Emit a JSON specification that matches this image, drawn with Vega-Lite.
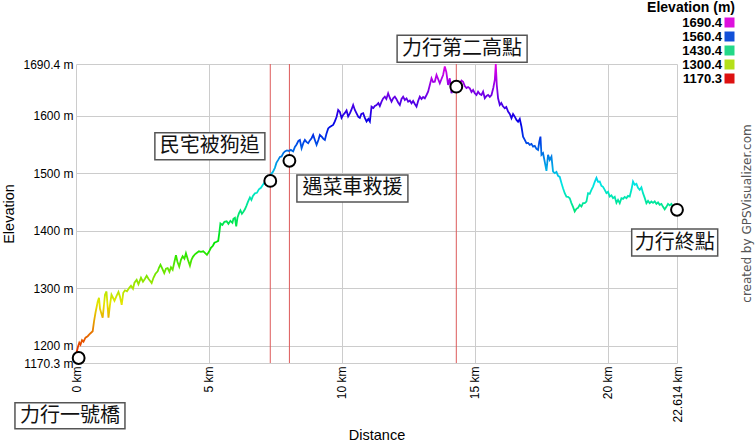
{
  "$schema": "https://vega.github.io/schema/vega-lite/v6.json",
  "width": 601,
  "height": 299,
  "autosize": {"type": "none"},
  "padding": {"left": 76, "top": 64, "right": 78, "bottom": 79},
  "background": "white",
  "config": {"font": "Liberation Sans", "view": {"stroke": null}},
  "title": {"text": "created by GPSVisualizer.com", "orient": "right", "anchor": "middle", "angle": -90, "fontSize": 12, "fontWeight": "normal", "color": "#555555", "offset": -5, "font": "DejaVu Sans"},
  "datasets": {
    "track": [
      {"d":0,"e":1170.3},{"d":0.03,"e":1190},{"d":0.075,"e":1198.7},{"d":0.124,"e":1205.6},{"d":0.169,"e":1202.1},{"d":0.226,"e":1210},{"d":0.282,"e":1207.4},{"d":0.357,"e":1214.3},{"d":0.44,"e":1216.9},{"d":0.527,"e":1221.2},
      {"d":0.628,"e":1225.6},{"d":0.677,"e":1242.1},{"d":0.733,"e":1257.7},{"d":0.816,"e":1276.8},{"d":0.865,"e":1283.8},{"d":0.903,"e":1264.7},{"d":0.959,"e":1256},{"d":1.004,"e":1249.1},{"d":1.053,"e":1271.6},{"d":1.091,"e":1289},
      {"d":1.147,"e":1294.7},{"d":1.185,"e":1271.6},{"d":1.222,"e":1249.1},{"d":1.279,"e":1271.6},{"d":1.335,"e":1289},{"d":1.392,"e":1283.8},{"d":1.448,"e":1278.5},{"d":1.531,"e":1287.3},{"d":1.598,"e":1293.9},{"d":1.655,"e":1285.5},
      {"d":1.719,"e":1271.6},{"d":1.779,"e":1292.5},{"d":1.843,"e":1296.8},{"d":1.918,"e":1295.1},{"d":2.004,"e":1301.2},{"d":2.068,"e":1304.6},{"d":2.144,"e":1299.4},{"d":2.2,"e":1309.9},{"d":2.283,"e":1315},{"d":2.35,"e":1307.3},
      {"d":2.445,"e":1318.6},{"d":2.52,"e":1311.7},{"d":2.595,"e":1316.9},{"d":2.659,"e":1322.1},{"d":2.726,"e":1316.9},{"d":2.783,"e":1313.4},{"d":2.847,"e":1309.4},{"d":2.915,"e":1318.6},{"d":2.99,"e":1325.5},{"d":3.073,"e":1329.9},
      {"d":3.121,"e":1335.9},{"d":3.178,"e":1341.2},{"d":3.234,"e":1335.9},{"d":3.321,"e":1326.7},{"d":3.385,"e":1334.2},{"d":3.449,"e":1335.4},{"d":3.516,"e":1329},{"d":3.573,"e":1336.8},{"d":3.637,"e":1332.5},{"d":3.704,"e":1346.4},
      {"d":3.761,"e":1357.6},{"d":3.817,"e":1346.4},{"d":3.885,"e":1337.7},{"d":3.949,"e":1349.8},{"d":4.013,"e":1355.9},{"d":4.08,"e":1351.6},{"d":4.137,"e":1361.1},{"d":4.212,"e":1349.8},{"d":4.287,"e":1339.4},{"d":4.344,"e":1349.8},
      {"d":4.4,"e":1355},{"d":4.475,"e":1359.4},{"d":4.551,"e":1362},{"d":4.626,"e":1364.6},{"d":4.701,"e":1363.7},{"d":4.788,"e":1364.6},{"d":4.851,"e":1362},{"d":4.927,"e":1358.5},{"d":5.002,"e":1363.7},{"d":5.077,"e":1370.7},
      {"d":5.152,"e":1374.2},{"d":5.209,"e":1379.4},{"d":5.292,"e":1381.1},{"d":5.352,"e":1382.8},{"d":5.397,"e":1398.5},{"d":5.434,"e":1413.2},{"d":5.51,"e":1410.6},{"d":5.585,"e":1415.8},{"d":5.668,"e":1416.7},{"d":5.735,"e":1412.4},
      {"d":5.81,"e":1417.6},{"d":5.886,"e":1414.1},{"d":5.923,"e":1421.1},{"d":5.98,"e":1422.8},{"d":6.029,"e":1408},{"d":6.074,"e":1422.8},{"d":6.13,"e":1430.6},{"d":6.187,"e":1435.9},{"d":6.243,"e":1429.8},{"d":6.299,"e":1433.3},
      {"d":6.356,"e":1437.6},{"d":6.412,"e":1443.7},{"d":6.469,"e":1450.6},{"d":6.544,"e":1458.4},{"d":6.6,"e":1454.1},{"d":6.657,"e":1461},{"d":6.732,"e":1465.4},{"d":6.807,"e":1466.3},{"d":6.882,"e":1472.3},{"d":6.958,"e":1475},
      {"d":7.033,"e":1480.2},{"d":7.108,"e":1485.4},{"d":7.183,"e":1488},{"d":7.259,"e":1493.2},{"d":7.334,"e":1498.4},{"d":7.409,"e":1502.7},{"d":7.484,"e":1509.7},{"d":7.541,"e":1518.4},{"d":7.609,"e":1523.6},{"d":7.673,"e":1528.8},
      {"d":7.736,"e":1529.7},{"d":7.804,"e":1535.7},{"d":7.86,"e":1538.4},{"d":7.936,"e":1540.1},{"d":8.011,"e":1539.2},{"d":8.086,"e":1541},{"d":8.172,"e":1538.4},{"d":8.236,"e":1546.2},{"d":8.3,"e":1550.5},{"d":8.368,"e":1556.6},
      {"d":8.424,"e":1558.3},{"d":8.488,"e":1543.9},{"d":8.556,"e":1553.1},{"d":8.612,"e":1558.3},{"d":8.669,"e":1554.9},{"d":8.737,"e":1552.6},{"d":8.8,"e":1557.5},{"d":8.864,"e":1561.3},{"d":8.924,"e":1567},{"d":8.988,"e":1558.3},
      {"d":9.052,"e":1549.7},{"d":9.12,"e":1558.3},{"d":9.176,"e":1567},{"d":9.252,"e":1563.6},{"d":9.308,"e":1560.1},{"d":9.364,"e":1558.3},{"d":9.421,"e":1568.8},{"d":9.489,"e":1578.3},{"d":9.552,"e":1580.9},{"d":9.609,"e":1582.7},
      {"d":9.677,"e":1584.4},{"d":9.74,"e":1590.5},{"d":9.804,"e":1598.3},{"d":9.865,"e":1610.5},{"d":9.929,"e":1607},{"d":9.992,"e":1596.6},{"d":10.053,"e":1601.8},{"d":10.117,"e":1605.3},{"d":10.18,"e":1609.6},{"d":10.241,"e":1599.2},
      {"d":10.305,"e":1604.4},{"d":10.361,"e":1610.5},{"d":10.429,"e":1619.2},{"d":10.493,"e":1610.5},{"d":10.557,"e":1604.4},{"d":10.624,"e":1598.3},{"d":10.681,"e":1596.6},{"d":10.737,"e":1603.5},{"d":10.805,"e":1604.7},{"d":10.869,"e":1596.6},
      {"d":10.933,"e":1590.5},{"d":11.0,"e":1594.8},{"d":11.057,"e":1590.5},{"d":11.12,"e":1616.2},{"d":11.188,"e":1613.9},{"d":11.245,"e":1617.4},{"d":11.309,"e":1619.1},{"d":11.376,"e":1622.6},{"d":11.433,"e":1617.4},{"d":11.497,"e":1624.9},
      {"d":11.557,"e":1630.5},{"d":11.621,"e":1633.6},{"d":11.678,"e":1629.6},{"d":11.745,"e":1639.5},{"d":11.809,"e":1631.3},{"d":11.873,"e":1624.9},{"d":11.941,"e":1631.3},{"d":11.997,"e":1633.6},{"d":12.054,"e":1629.6},{"d":12.121,"e":1623.5},
      {"d":12.185,"e":1619.1},{"d":12.249,"e":1629.6},{"d":12.309,"e":1633.6},{"d":12.373,"e":1627.8},{"d":12.437,"e":1630.5},{"d":12.497,"e":1624.9},{"d":12.561,"e":1627},{"d":12.625,"e":1622.1},{"d":12.685,"e":1626.1},{"d":12.749,"e":1620.9},
      {"d":12.813,"e":1616.2},{"d":12.873,"e":1626.1},{"d":12.937,"e":1633.6},{"d":13.001,"e":1629.6},{"d":13.061,"e":1633.1},{"d":13.125,"e":1630.8},{"d":13.189,"e":1636.5},{"d":13.249,"e":1642.3},{"d":13.313,"e":1653.9},{"d":13.377,"e":1665.6},
      {"d":13.437,"e":1659.1},{"d":13.5,"e":1659.6},{"d":13.565,"e":1671.3},{"d":13.625,"e":1664.3},{"d":13.689,"e":1656.9},{"d":13.753,"e":1664.3},{"d":13.813,"e":1671.3},{"d":13.877,"e":1686.1},{"d":13.933,"e":1676.5},{"d":14.001,"e":1653.9},
      {"d":14.065,"e":1665.6},{"d":14.129,"e":1639.5},{"d":14.197,"e":1648.7},{"d":14.253,"e":1652.2},{"d":14.317,"e":1653.9},{"d":14.377,"e":1655.7},{"d":14.441,"e":1656.9},{"d":14.505,"e":1661.7},{"d":14.565,"e":1659.6},{"d":14.629,"e":1652.2},
      {"d":14.693,"e":1648.7},{"d":14.753,"e":1650.4},{"d":14.818,"e":1648.2},{"d":14.882,"e":1641.7},{"d":14.942,"e":1645.2},{"d":15.005,"e":1639.5},{"d":15.069,"e":1636.5},{"d":15.13,"e":1642.3},{"d":15.194,"e":1638.3},{"d":15.257,"e":1636.5},
      {"d":15.318,"e":1642.3},{"d":15.382,"e":1630.8},{"d":15.446,"e":1634.8},{"d":15.506,"e":1636.5},{"d":15.57,"e":1633.1},{"d":15.634,"e":1636.5},{"d":15.701,"e":1648.7},{"d":15.758,"e":1662.6},{"d":15.795,"e":1690.4},{"d":15.833,"e":1653.9},
      {"d":15.882,"e":1630.8},{"d":15.946,"e":1619.1},{"d":16.002,"e":1622.6},{"d":16.059,"e":1617.4},{"d":16.134,"e":1613.4},{"d":16.19,"e":1615.6},{"d":16.258,"e":1607.5},{"d":16.322,"e":1603.5},{"d":16.386,"e":1596},{"d":16.446,"e":1603.5},
      {"d":16.51,"e":1598.8},{"d":16.574,"e":1593.1},{"d":16.634,"e":1590.1},{"d":16.698,"e":1594.8},{"d":16.762,"e":1581.4},{"d":16.822,"e":1564.1},{"d":16.886,"e":1558.3},{"d":16.95,"e":1552.6},{"d":17.01,"e":1553.1},{"d":17.074,"e":1549.7},
      {"d":17.138,"e":1551.4},{"d":17.198,"e":1546.7},{"d":17.262,"e":1547.9},{"d":17.326,"e":1542.7},{"d":17.386,"e":1540.9},{"d":17.431,"e":1554.9},{"d":17.476,"e":1564.1},{"d":17.514,"e":1532.3},{"d":17.574,"e":1535.2},{"d":17.638,"e":1520.1},
      {"d":17.702,"e":1504.5},{"d":17.762,"e":1532.3},{"d":17.826,"e":1523.6},{"d":17.89,"e":1529.3},{"d":17.95,"e":1503.3},{"d":18.014,"e":1500.5},{"d":18.078,"e":1502.7},{"d":18.138,"e":1495.8},{"d":18.202,"e":1494},{"d":18.266,"e":1483.6},
      {"d":18.326,"e":1474.4},{"d":18.39,"e":1465.7},{"d":18.454,"e":1459.8},{"d":18.514,"e":1459.3},{"d":18.578,"e":1457},{"d":18.642,"e":1448.4},{"d":18.702,"e":1441.9},{"d":18.766,"e":1433.8},{"d":18.83,"e":1438.5},{"d":18.89,"e":1440.2},
      {"d":18.954,"e":1445.4},{"d":19.018,"e":1442.4},{"d":19.078,"e":1448.3},{"d":19.142,"e":1448.3},{"d":19.206,"e":1451.1},{"d":19.267,"e":1465.7},{"d":19.33,"e":1464.5},{"d":19.394,"e":1471.5},{"d":19.455,"e":1477.2},{"d":19.519,"e":1485.4},
      {"d":19.583,"e":1492.3},{"d":19.643,"e":1485.4},{"d":19.707,"e":1485.9},{"d":19.771,"e":1478.4},{"d":19.831,"e":1476.7},{"d":19.895,"e":1471.5},{"d":19.959,"e":1465.7},{"d":20.019,"e":1468},{"d":20.083,"e":1459.8},{"d":20.147,"e":1461.9},
      {"d":20.207,"e":1457.1},{"d":20.271,"e":1459.3},{"d":20.335,"e":1448.8},{"d":20.395,"e":1454.1},{"d":20.459,"e":1448.3},{"d":20.523,"e":1457.1},{"d":20.584,"e":1455.8},{"d":20.647,"e":1459.3},{"d":20.711,"e":1457.1},{"d":20.771,"e":1461},
      {"d":20.835,"e":1459.8},{"d":20.899,"e":1471.5},{"d":20.959,"e":1485.9},{"d":21.023,"e":1480.2},{"d":21.087,"e":1481.9},{"d":21.147,"e":1475},{"d":21.211,"e":1471.5},{"d":21.275,"e":1475.8},{"d":21.335,"e":1465.7},{"d":21.399,"e":1457.5},
      {"d":21.463,"e":1448.3},{"d":21.524,"e":1452.3},{"d":21.587,"e":1448.3},{"d":21.651,"e":1451.1},{"d":21.712,"e":1448.8},{"d":21.775,"e":1451.4},{"d":21.839,"e":1447.1},{"d":21.9,"e":1449.7},{"d":21.963,"e":1445.4},{"d":22.027,"e":1447.1},
      {"d":22.088,"e":1441.9},{"d":22.151,"e":1437.6},{"d":22.215,"e":1441.9},{"d":22.276,"e":1447.1},{"d":22.339,"e":1444.5},{"d":22.403,"e":1447.1},{"d":22.463,"e":1441.9},{"d":22.527,"e":1443.7},{"d":22.614,"e":1439.3}
    ],
    "wp": [
      {"n":"力行一號橋","d":0.1,"e":1179,"r":0},
      {"n":"民宅被狗追","d":7.31,"e":1487,"r":1},
      {"n":"遇菜車救援","d":8.03,"e":1522,"r":1},
      {"n":"力行第二高點","d":14.31,"e":1651,"r":1},
      {"n":"力行終點","d":22.614,"e":1436.7,"r":0}
    ]
  },
  "layer": [
    {
      "data": {"name": "wp"},
      "transform": [{"filter": "datum.r == 1"}],
      "mark": {"type": "rule", "color": "#dd5a5a", "strokeWidth": 1},
      "encoding": {
        "x": {"field": "d", "type": "quantitative", "title": "Distance"}
      }
    },
    {
      "data": {"name": "track"},
      "mark": {"type": "line", "strokeWidth": 1.8, "stroke": {"gradient": "linear", "x1": 0, "y1": 1, "x2": 0, "y2": 0, "stops": [
        {"offset": 0, "color": "#e60000"}, {"offset": 0.1, "color": "#e67300"}, {"offset": 0.2, "color": "#e6e600"},
        {"offset": 0.3, "color": "#73e600"}, {"offset": 0.4, "color": "#00e600"}, {"offset": 0.5, "color": "#00e673"},
        {"offset": 0.6, "color": "#00e6e6"}, {"offset": 0.7, "color": "#0073e6"}, {"offset": 0.8, "color": "#0000e6"},
        {"offset": 0.9, "color": "#7300e6"}, {"offset": 1, "color": "#e600e6"}]}},
      "encoding": {
        "x": {"field": "d", "type": "quantitative", "title": "Distance",
          "scale": {"domain": [0, 22.614], "nice": false, "zero": false},
          "axis": {"values": [0, 5, 10, 15, 20, 22.614], "labelExpr": "datum.value + ' km'", "labelAngle": 270, "labelFontSize": 12, "labelColor": "black", "labelPadding": 3, "labelFlush": false, "labelOverlap": false, "ticks": false, "domain": false, "grid": true, "gridColor": "#cccccc", "titleFontSize": 14.5, "titleFontWeight": "normal", "titleColor": "black", "titlePadding": 6}},
        "y": {"field": "e", "type": "quantitative", "title": "Elevation",
          "scale": {"domain": [1170.3, 1690.4], "nice": false, "zero": false},
          "axis": {"values": [1170.3, 1200, 1300, 1400, 1500, 1600, 1690.4], "labelExpr": "datum.value + ' m'", "labelFontSize": 12, "labelColor": "black", "labelPadding": 3, "labelFlush": false, "labelOverlap": false, "ticks": false, "domain": false, "grid": true, "gridColor": "#cccccc", "titleFontSize": 14.5, "titleFontWeight": "normal", "titleColor": "black", "titlePadding": 6}}
      }
    },
    {
      "data": {"name": "wp"},
      "mark": {"type": "point", "shape": "square", "filled": true, "opacity": 0},
      "encoding": {
        "x": {"field": "d", "type": "quantitative", "title": "Distance"},
        "y": {"field": "e", "type": "quantitative", "title": "Elevation"},
        "color": {"datum": "1690.4", "type": "nominal",
          "scale": {"domain": ["1690.4", "1560.4", "1430.4", "1300.4", "1170.3"], "range": ["#dd11dd", "#1150d8", "#22d888", "#b5e01a", "#dd1111"]},
          "legend": {"orient": "none", "legendX": 571, "legendY": -63, "title": "Elevation (m)", "titleFontSize": 14, "titleFontWeight": "bold", "titleColor": "black", "titleAnchor": "end", "titlePadding": 1, "titleFont": "Liberation Sans",
            "symbolType": "square", "symbolSize": 100, "symbolStrokeWidth": 0, "symbolOpacity": 1,
            "labelExpr": "'            ' + datum.label",
            "labelFontSize": 13, "labelFontWeight": "bold", "labelFont": "Liberation Sans", "labelAlign": "right", "labelOffset": -14, "rowPadding": -3, "padding": 0,
            "encode": {"labels": {"fill": {"condition": [
              {"test": "datum.value == '1690.4'", "value": "#cc22cc"},
              {"test": "datum.value == '1560.4'", "value": "#1848b8"},
              {"test": "datum.value == '1430.4'", "value": "#33d090"},
              {"test": "datum.value == '1300.4'", "value": "#b8d838"}], "value": "#c81020"}}}}}
      }
    },
    {
      "data": {"name": "wp"},
      "mark": {"type": "point", "shape": "circle", "size": 140, "filled": true, "fill": "white", "stroke": "black", "strokeWidth": 2, "opacity": 1},
      "encoding": {
        "x": {"field": "d", "type": "quantitative", "title": "Distance"},
        "y": {"field": "e", "type": "quantitative", "title": "Elevation"}
      }
    },
    {
      "data": {"name": "wp"},
      "transform": [{"filter": "datum.n == '力行一號橋'"}],
      "layer": [
        {"mark": {"type": "point", "shape": "M-63.7,44.7H46.3V70.7H-63.7Z", "size": 4, "filled": true, "fill": "white", "stroke": "#555555", "strokeWidth": 1.5, "opacity": 1}},
        {"mark": {"type": "text", "dx": -8.7, "dy": 57.7, "fontSize": 20, "font": "Noto Sans CJK TC", "align": "center", "baseline": "middle", "color": "#111111"}, "encoding": {"text": {"field": "n"}}}
      ],
      "encoding": {
        "x": {"field": "d", "type": "quantitative", "title": "Distance"},
        "y": {"field": "e", "type": "quantitative", "title": "Elevation"}
      }
    },
    {
      "data": {"name": "wp"},
      "transform": [{"filter": "datum.n == '民宅被狗追'"}],
      "layer": [
        {"mark": {"type": "point", "shape": "M-115.4,-48.1H-5.4V-21.1H-115.4Z", "size": 4, "filled": true, "fill": "white", "stroke": "#555555", "strokeWidth": 1.5, "opacity": 1}},
        {"mark": {"type": "text", "dx": -60.4, "dy": -34.6, "fontSize": 20, "font": "Noto Sans CJK TC", "align": "center", "baseline": "middle", "color": "#111111"}, "encoding": {"text": {"field": "n"}}}
      ],
      "encoding": {
        "x": {"field": "d", "type": "quantitative", "title": "Distance"},
        "y": {"field": "e", "type": "quantitative", "title": "Elevation"}
      }
    },
    {
      "data": {"name": "wp"},
      "transform": [{"filter": "datum.n == '遇菜車救援'"}],
      "layer": [
        {"mark": {"type": "point", "shape": "M7.5,14.1H118.5V41.1H7.5Z", "size": 4, "filled": true, "fill": "white", "stroke": "#555555", "strokeWidth": 1.5, "opacity": 1}},
        {"mark": {"type": "text", "dx": 63, "dy": 27.6, "fontSize": 20, "font": "Noto Sans CJK TC", "align": "center", "baseline": "middle", "color": "#111111"}, "encoding": {"text": {"field": "n"}}}
      ],
      "encoding": {
        "x": {"field": "d", "type": "quantitative", "title": "Distance"},
        "y": {"field": "e", "type": "quantitative", "title": "Elevation"}
      }
    },
    {
      "data": {"name": "wp"},
      "transform": [{"filter": "datum.n == '力行第二高點'"}],
      "layer": [
        {"mark": {"type": "point", "shape": "M-59.2,-51.4H70.8V-24.4H-59.2Z", "size": 4, "filled": true, "fill": "white", "stroke": "#555555", "strokeWidth": 1.5, "opacity": 1}},
        {"mark": {"type": "text", "dx": 5.8, "dy": -37.9, "fontSize": 20, "font": "Noto Sans CJK TC", "align": "center", "baseline": "middle", "color": "#111111"}, "encoding": {"text": {"field": "n"}}}
      ],
      "encoding": {
        "x": {"field": "d", "type": "quantitative", "title": "Distance"},
        "y": {"field": "e", "type": "quantitative", "title": "Elevation"}
      }
    },
    {
      "data": {"name": "wp"},
      "transform": [{"filter": "datum.n == '力行終點'"}],
      "layer": [
        {"mark": {"type": "point", "shape": "M-45.3,19.2H40.7V46.2H-45.3Z", "size": 4, "filled": true, "fill": "white", "stroke": "#555555", "strokeWidth": 1.5, "opacity": 1}},
        {"mark": {"type": "text", "dx": -2.3, "dy": 32.7, "fontSize": 20, "font": "Noto Sans CJK TC", "align": "center", "baseline": "middle", "color": "#111111"}, "encoding": {"text": {"field": "n"}}}
      ],
      "encoding": {
        "x": {"field": "d", "type": "quantitative", "title": "Distance"},
        "y": {"field": "e", "type": "quantitative", "title": "Elevation"}
      }
    }
  ]
}
